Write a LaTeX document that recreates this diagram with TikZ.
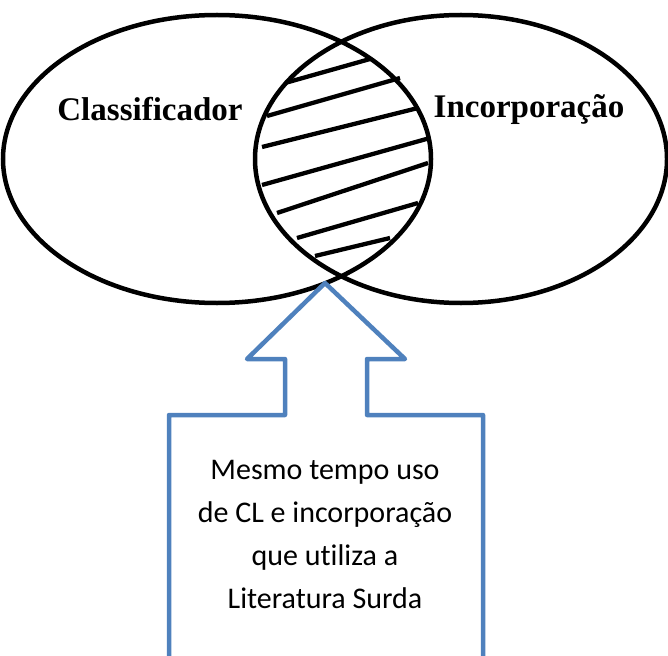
\documentclass[tikz,border=0pt]{standalone}
\usepackage{fontspec}
\setmainfont{Liberation Serif}
\newfontfamily\boxfont[Ligatures=NoCommon]{Carlito}
\usetikzlibrary{shapes.geometric}
\definecolor{officeblue}{RGB}{79,129,189}
\begin{document}
\begin{tikzpicture}[x=1pt,y=-1pt,
  setline/.style={draw=black,line width=4.5pt},
  setellipse/.style={ellipse,setline,inner sep=0pt,fill=none},
  hatchline/.style={draw=black,line width=4.3pt},
  setlabel/.style={inner sep=0pt,anchor=base,font=\bfseries\fontsize{33}{38}\selectfont},
  boxtext/.style={inner sep=0pt,anchor=base,font=\boxfont\fontsize{30}{36}\selectfont},
  callout/.style={draw=officeblue,line width=4.5pt,line join=round}]
\useasboundingbox (0,0) rectangle (668,655);
\clip (0,0) rectangle (668,655);
% sets
\node[setellipse,minimum width=428pt,minimum height=288pt] (cl) at (217,159) {};
\node[setellipse,minimum width=412pt,minimum height=288pt] (inc) at (461,159) {};
% hatching of the intersection
\coordinate (h1a) at (285,83);  \coordinate (h1b) at (370,59);
\coordinate (h2a) at (267,116); \coordinate (h2b) at (400,78);
\coordinate (h3a) at (262,147); \coordinate (h3b) at (418,108);
\coordinate (h4a) at (262,185); \coordinate (h4b) at (430,138);
\coordinate (h5a) at (277,213); \coordinate (h5b) at (428,163);
\coordinate (h6a) at (297,238); \coordinate (h6b) at (418,203);
\coordinate (h7a) at (315,256); \coordinate (h7b) at (390,238);
\foreach \i in {1,...,7} {\draw[hatchline] (h\i a) -- (h\i b);}
% labels
\node[setlabel] (lcl) at (150,121) {Classificador};
\node[setlabel] (linc) at (529,118) {Incorporação};
% callout arrow
\coordinate (tip) at (325,283);
\coordinate (hl) at (247,359); \coordinate (sl) at (285,359);
\coordinate (sr) at (367,359); \coordinate (hr) at (405,359);
\coordinate (bl) at (285,415); \coordinate (br) at (367,415);
\coordinate (tl) at (169,415); \coordinate (tr) at (483,415);
\coordinate (dl) at (169,670); \coordinate (dr) at (483,670);
\draw[callout] (dl) -- (tl) -- (bl) -- (sl) -- (hl) -- (tip) -- (hr) -- (sr) -- (br) -- (tr) -- (dr);
% text
\node[boxtext] (t1) at (325,479) {Mesmo tempo uso};
\node[boxtext] (t2) at (325,522) {de CL e incorporação};
\node[boxtext] (t3) at (325,565) {que utiliza a};
\node[boxtext] (t4) at (325,608) {Literatura Surda};
\end{tikzpicture}
\end{document}
